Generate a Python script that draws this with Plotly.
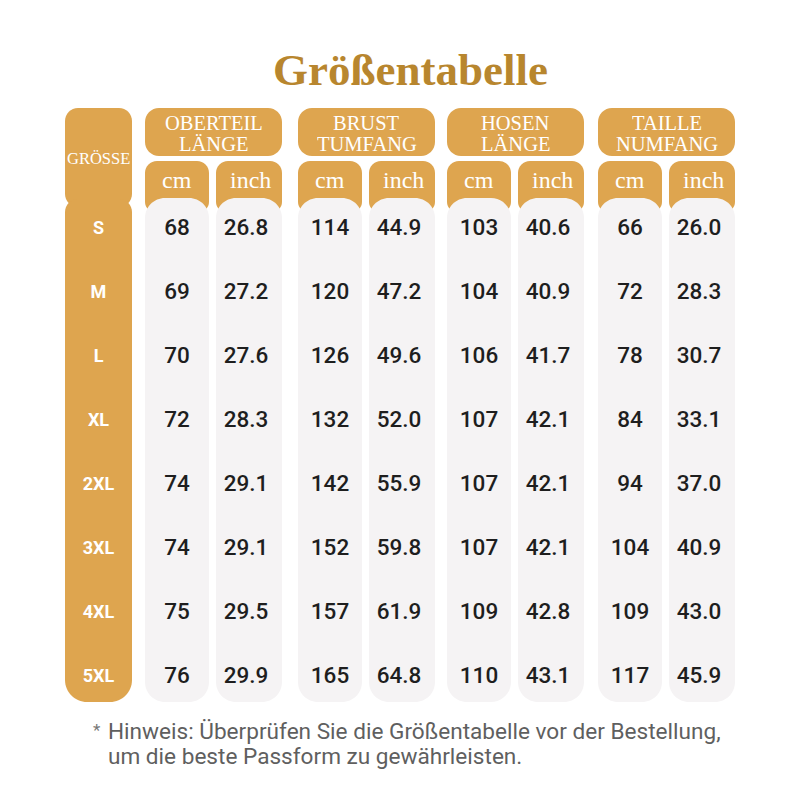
import plotly.graph_objects as go

# chart data
sizes = ["S", "M", "L", "XL", "2XL", "3XL", "4XL", "5XL"]
oberteil_cm = [68, 69, 70, 72, 74, 74, 75, 76]
oberteil_inch = [26.8, 27.2, 27.6, 28.3, 29.1, 29.1, 29.5, 29.9]
brust_cm = [114, 120, 126, 132, 142, 152, 157, 165]
brust_inch = [44.9, 47.2, 49.6, 52.0, 55.9, 59.8, 61.9, 64.8]
hosen_cm = [103, 104, 106, 107, 107, 107, 109, 110]
hosen_inch = [40.6, 40.9, 41.7, 42.1, 42.1, 42.1, 42.8, 43.1]
taille_cm = [66, 72, 78, 84, 94, 104, 109, 117]
taille_inch = [26.0, 28.3, 30.7, 33.1, 37.0, 40.9, 43.0, 45.9]

group_titles = [("OBERTEIL", "LÄNGE"), ("BRUST", "TUMFANG"), ("HOSEN", "LÄNGE"), ("TAILLE", "NUMFANG")]
unit_labels = ["cm", "inch"]
title = "Größentabelle"
note_lines = ["Hinweis: Überprüfen Sie die Größentabelle vor der Bestellung,",
              "um die beste Passform zu gewährleisten."]

groups = [(oberteil_cm, oberteil_inch), (brust_cm, brust_inch),
          (hosen_cm, hosen_inch), (taille_cm, taille_inch)]

# layout (pixels); page body has an 8px margin, so the axes are offset by 8
GOLD = "#DEA54F"
PILL = "#F5F3F4"
TITLE_COL = "#B8862E"
group_left = [145, 298, 447, 598]
row_top, row_h = 197, 64
K = 0.5523


def rrect(x0, y0, x1, y1, rt, rb):
    kt, kb = rt * K, rb * K
    return (f"M {x0+rt},{y0} L {x1-rt},{y0} "
            f"C {x1-rt+kt},{y0} {x1},{y0+rt-kt} {x1},{y0+rt} "
            f"L {x1},{y1-rb} "
            f"C {x1},{y1-rb+kb} {x1-rb+kb},{y1} {x1-rb},{y1} "
            f"L {x0+rb},{y1} "
            f"C {x0+rb-kb},{y1} {x0},{y1-rb+kb} {x0},{y1-rb} "
            f"L {x0},{y0+rt} "
            f"C {x0},{y0+rt-kt} {x0+rt-kt},{y0} {x0+rt},{y0} Z")


shapes = []


def add(path, color):
    shapes.append(dict(type="path", path=path, fillcolor=color,
                       line=dict(width=0), layer="below"))


# size column
add(rrect(65, 108, 132, 207, 13, 13), GOLD)
add(rrect(65, 199, 132, 702, 13, 22), GOLD)

annotations = []


def label(x, y, text, size, color="white", family="Liberation Serif", xanchor="center",
          weight="normal", height=None):
    annotations.append(dict(x=x, y=y, text=text, showarrow=False, xanchor=xanchor,
                            yanchor="middle", height=height,
                            font=dict(size=size, color=color, family=family, weight=weight)))


label(98.5, 158, "GRÖSSE", 16.5)

col_x = []
for gi, left in enumerate(group_left):
    add(rrect(left, 108, left + 137, 156, 14, 14), GOLD)
    label(left + 68.5, 123, group_titles[gi][0], 20.5, height=20)
    label(left + 68.5, 144, group_titles[gi][1], 20.5, height=20)
    for ui, (a, b) in enumerate([(left, left + 64), (left + 71, left + 137)]):
        add(rrect(a, 161, b, 212, 12, 10), GOLD)
        add(rrect(a, 198, b, 702, 20, 20), PILL)
        label((a + b) / 2 + (1 if ui else 0), 180, unit_labels[ui], 24)
        col_x.append((a + b) / 2 - (3 if ui else 0))

row_y = [row_top + row_h * (i + 0.5) for i in range(len(sizes))]

num_font = dict(family="Roboto", size=22.5, color="#1E1E1E", weight=500)
traces = [go.Scatter(x=[98.5] * len(sizes), y=row_y, text=sizes, mode="text",
                     textfont=dict(family="Roboto", size=18, color="white", weight="bold"))]
ci = 0
for cm_vals, inch_vals in groups:
    traces.append(go.Scatter(x=[col_x[ci]] * len(cm_vals), y=row_y,
                             text=[str(v) for v in cm_vals], mode="text", textfont=num_font))
    traces.append(go.Scatter(x=[col_x[ci + 1]] * len(inch_vals), y=row_y,
                             text=[f"{v:.1f}" for v in inch_vals], mode="text", textfont=num_font))
    ci += 2

label(410, 70, title, 45, color=TITLE_COL, weight="bold")
label(97, 730, "*", 17, color="#777777", family="Roboto")
label(106, 731, note_lines[0], 22.6, color="#5F5F5F", family="Roboto", xanchor="left")
label(106, 756, note_lines[1], 22.6, color="#5F5F5F", family="Roboto", xanchor="left")

fig = go.Figure(traces)
fig.update_layout(
    width=800, height=800, autosize=False,
    margin=dict(l=0, r=0, t=0, b=0),
    paper_bgcolor="white", plot_bgcolor="white",
    showlegend=False, hovermode=False,
    shapes=shapes, annotations=annotations,
    xaxis=dict(range=[8, 808], visible=False, fixedrange=True),
    yaxis=dict(range=[808, 8], visible=False, fixedrange=True),
)
fig.write_html("out.html", config=dict(displayModeBar=False))
